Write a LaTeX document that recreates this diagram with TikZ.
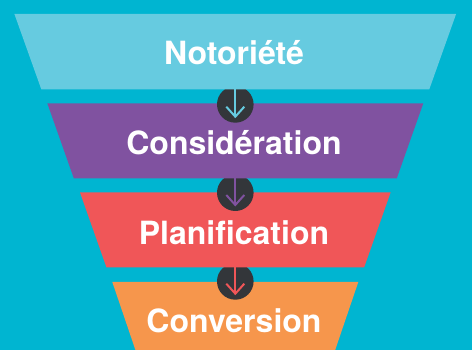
\documentclass[tikz,border=0pt]{standalone}
\usepackage{fontspec}
\setmainfont{TeX Gyre Heros}
\definecolor{bgc}{RGB}{0,181,209}
\definecolor{tone}{RGB}{102,203,224}
\definecolor{ttwo}{RGB}{128,82,160}
\definecolor{tthree}{RGB}{240,86,88}
\definecolor{tfour}{RGB}{246,150,76}
\definecolor{circc}{RGB}{51,54,58}
\tikzset{
  circ/.style={circle,fill=circc,minimum size=36.6pt,inner sep=0pt},
  arr/.style={line width=2pt,line cap=butt,line join=miter},
  lbl/.style={text=white,font=\fontsize{32}{38}\selectfont\bfseries,inner sep=0pt,anchor=base}
}
\begin{document}
\begin{tikzpicture}[x=1pt,y=-1pt]
\useasboundingbox (0,0) rectangle (472,350);
\fill[bgc] (0,0) rectangle (472,350);
% stage 4
\fill[tfour] (112.3,282) -- (358.3,282) -- (332.8,357) -- (137.8,357) -- cycle;
\node[circ] (c3) at (235.3,281.4) {};
\coordinate (t3) at (235.3,293.7);
\draw[arr,tthree] (c3.north) -- (t3);
\draw[arr,tthree] (t3) ++(-9,-10) -- (t3) -- ++(9,-10);
% stage 3
\fill[tthree] (80,192.5) -- (390.6,192.5) -- (364.1,267.5) -- (106.5,267.5) -- cycle;
\node[circ] (c2) at (235.3,192.7) {};
\coordinate (t2) at (235.3,205);
\draw[arr,ttwo] (c2.north) -- (t2);
\draw[arr,ttwo] (t2) ++(-9,-10) -- (t2) -- ++(9,-10);
% stage 2
\fill[ttwo] (47.3,103.3) -- (423.3,103.3) -- (396.8,178.3) -- (73.8,178.3) -- cycle;
\node[circ] (c1) at (235.3,104.4) {};
\coordinate (t1) at (235.3,116.7);
\draw[arr,tone] (c1.north) -- (t1);
\draw[arr,tone] (t1) ++(-9,-10) -- (t1) -- ++(9,-10);
% stage 1
\fill[tone] (14.4,14) -- (456.1,14) -- (429.3,89.3) -- (41.3,89.3) -- cycle;
% labels
\node[lbl] (l1) at (234,65) {Notoriété};
\node[lbl] (l2) at (234,154.5) {Considération};
\node[lbl] (l3) at (234,245) {Planification};
\node[lbl] (l4) at (234,332.5) {Conversion};
\end{tikzpicture}
\end{document}
